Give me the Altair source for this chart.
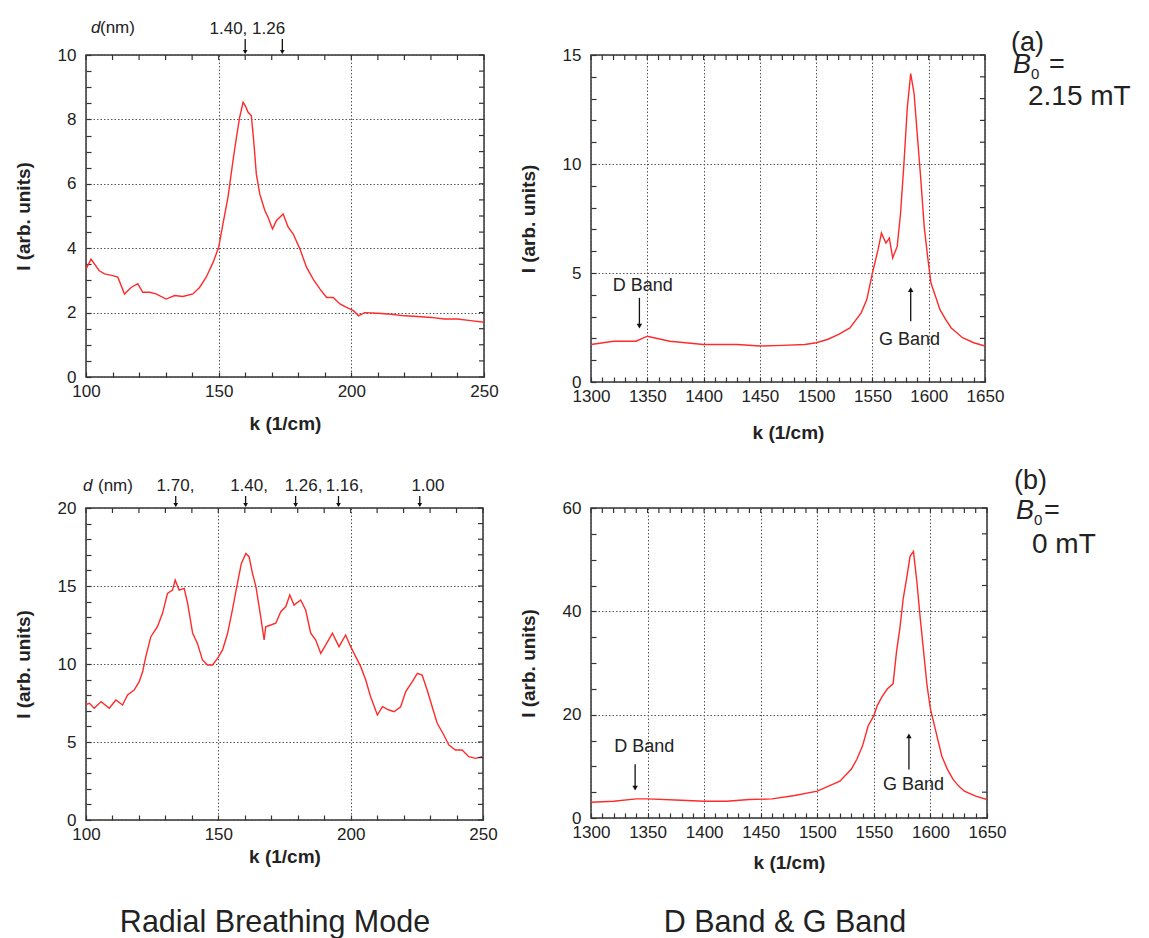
import altair as alt
import pandas as pd

# ---------------- data ----------------
# (a) B0 = 2.15 mT, radial breathing mode
k_a_rbm = [100, 101.9, 105, 107, 110, 112, 114.5, 117, 119.5, 121.4, 124, 126.4, 130.2, 133.4,
           136.5, 140.3, 142.8, 145.3, 147.9, 150, 151.6, 153.5, 155.4, 156.7, 157.9, 159.2, 160,
           161.1, 162.3, 163.2, 164.2, 165.5, 167.4, 168.6, 170.3, 171.8, 174.3, 176.2, 178.1,
           180.6, 183.1, 185.6, 188.2, 190.7, 193.2, 195.7, 198.2, 200.8, 202.7, 205, 210, 215,
           220, 225, 230, 235, 240, 245, 250]
I_a_rbm = [3.35, 3.66, 3.3, 3.2, 3.15, 3.1, 2.58, 2.78, 2.9, 2.63, 2.63, 2.58, 2.42, 2.53,
           2.5, 2.58, 2.78, 3.1, 3.56, 4.03, 4.75, 5.58, 6.72, 7.44, 8.06, 8.53, 8.43,
           8.22, 8.12, 7.34, 6.3, 5.68, 5.17, 4.96, 4.6, 4.86, 5.06, 4.65, 4.44,
           3.98, 3.41, 3.04, 2.73, 2.47, 2.47, 2.27, 2.16, 2.06, 1.9, 2.0, 1.98, 1.95,
           1.9, 1.88, 1.85, 1.8, 1.8, 1.75, 1.7]

# (a) D band & G band
k_a_dg = [1300, 1320, 1340, 1350, 1370, 1400, 1430, 1450, 1470, 1490, 1500, 1510, 1520, 1530,
          1540, 1545, 1550, 1555, 1558, 1562, 1565, 1568, 1572, 1575, 1578, 1581, 1584, 1587,
          1590, 1593, 1596, 1599, 1602, 1606, 1610, 1615, 1620, 1625, 1630, 1640, 1650]
I_a_dg = [1.72, 1.87, 1.87, 2.1, 1.87, 1.72, 1.72, 1.65, 1.68, 1.72, 1.8, 1.95, 2.18, 2.48,
          3.17, 3.78, 5.0, 6.07, 6.83, 6.37, 6.6, 5.69, 6.22, 7.74, 10.03, 12.6, 14.15, 13.23,
          11.25, 9.27, 7.13, 5.76, 4.54, 3.93, 3.32, 2.87, 2.48, 2.26, 2.03, 1.8, 1.65]

# (b) B0 = 0 mT, radial breathing mode
k_b_rbm = [100, 101.3, 103.1, 105.7, 108.8, 111.3, 113.8, 115.7, 118.2, 120.1, 121.4, 122.6,
           124.5, 127, 128.9, 130.8, 132.7, 133.7, 135.2, 137.1, 138.4, 140.3, 142.1, 144,
           145.9, 147.8, 149.7, 151.6, 153.5, 155.3, 157.2, 158.7, 160.4, 161.6, 162.9, 164.2,
           166, 167.3, 167.9, 169.8, 171.7, 173.6, 175.5, 177, 178.6, 181.1, 183, 184.9, 186.8,
           188.7, 190.6, 193.1, 195.6, 198.1, 200, 201.9, 203.8, 205.7, 207.5, 210.1, 212,
           214.5, 216.4, 218.9, 220.8, 223.3, 225.2, 227, 228.9, 230.8, 232.7, 235.2, 237.1,
           239.6, 242.1, 244.6, 247.2, 249.7]
I_b_rbm = [7.4, 7.48, 7.16, 7.59, 7.16, 7.69, 7.37, 8.01, 8.33, 8.87, 9.5, 10.47,
           11.75, 12.39, 13.25, 14.53, 14.74, 15.38, 14.74, 14.85, 13.89, 11.97, 11.32, 10.26,
           9.94, 9.94, 10.36, 10.9, 11.97, 13.46, 15.17, 16.45, 17.09, 16.88, 15.81, 14.96,
           13.03, 11.54, 12.39, 12.5, 12.61, 13.35, 13.68, 14.42, 13.78, 14.1, 13.46, 11.97, 11.54,
           10.68, 11.22, 11.97, 11.11, 11.86, 11.11, 10.47, 9.83, 8.97, 7.91, 6.73, 7.26,
           7.05, 6.94, 7.26, 8.23, 8.87, 9.4, 9.29, 8.33, 7.26, 6.2, 5.45, 4.81,
           4.49, 4.49, 4.06, 3.95, 4.06]

# (b) D band & G band
k_b_dg = [1300, 1320, 1340, 1350, 1380, 1400, 1420, 1440, 1460, 1480, 1500, 1510, 1520, 1530,
          1535, 1540, 1545, 1550, 1553, 1557, 1562, 1567, 1570, 1573, 1576, 1579, 1582, 1585,
          1588, 1591, 1594, 1597, 1600, 1605, 1610, 1615, 1620, 1625, 1630, 1640, 1650]
I_b_dg = [3.05, 3.25, 3.7, 3.7, 3.44, 3.25, 3.25, 3.57, 3.7, 4.35, 5.19, 6.17, 7.14, 9.42,
          11.36, 13.96, 17.86, 19.8, 21.75, 23.38, 25.0, 25.97, 32.14, 36.69, 42.53, 46.43, 50.65, 51.6,
          45.78, 38.64, 32.14, 25.65, 21.1, 16.56, 12.01, 9.42, 7.47, 6.17, 5.19, 4.22, 3.57]

# tube-diameter markers (wavenumber of the arrow, label)
a_marker_k = [160, 174]
a_marker_label = ["1.40, 1.26"]
a_marker_label_k = [160.8]
b_marker_k = [133.9, 160.3, 179.2, 195.4, 226.1]
b_marker_label = ["1.70,", "1.40,", "1.26,", "1.16,", "1.00"]
b_marker_label_k = [133.8, 161.6, 182.2, 197.7, 229.2]

# band annotations: text, text position, arrow start/end
a_band_text = ["D Band", "G Band"]
a_band_text_k = [1346, 1583]
a_band_text_I = [4.16, 1.72]
a_arrow_k = [1343, 1584]
a_arrow_from = [3.86, 2.79]
a_arrow_to = [2.56, 4.24]
b_band_text = ["D Band", "G Band"]
b_band_text_k = [1347, 1585]
b_band_text_I = [12.7, 5.5]
b_arrow_k = [1339, 1581]
b_arrow_from = [10.4, 9.4]
b_arrow_to = [5.8, 15.9]
arrow_shape = ["triangle-down", "triangle-up"]

# axis tick values
rbm_major = [100, 150, 200, 250]
rbm_minor = list(range(100, 251, 10))
dg_major = list(range(1300, 1651, 50))
dg_minor = list(range(1300, 1651, 10))

# ---------------- styling ----------------
RED = "#ff2a2a"
FONT = "Liberation Sans"
INK = "#222222"
GRID = "#555555"
TICK = "#333333"
LABEL_SIZE = 17
TITLE_SIZE = 19
TICK_LEN = 5


def const_text(text, x, y, size, align="left", style="normal", weight="normal"):
    return alt.Chart(alt.Data(values=[{}])).mark_text(
        text=text, align=align, baseline="alphabetic", font=FONT, fontSize=size,
        fontStyle=style, fontWeight=weight, color=INK
    ).encode(x=alt.value(x), y=alt.value(y))


def axis_def(orient, major, minor, title, title_pad, label_pad):
    is_major = f"indexof({list(major)}, datum.value) >= 0"
    # the axis is pulled TICK_LEN px into the plot so its outward ticks end on the frame;
    # a large tickCount keeps Vega from thinning the explicit tick values
    return alt.Axis(
        values=minor, tickCount=1000, orient=orient, offset=-TICK_LEN,
        ticks=True, tickSize=TICK_LEN, tickColor=TICK, tickWidth=1.2,
        domain=False, labelPadding=label_pad, labelFlush=False, labelOverlap=False,
        labelExpr=f"{is_major} ? format(datum.value, 'd') : ''",
        title=title, titlePadding=title_pad,
        grid=True, gridDash=[1.5, 2], gridColor=GRID, gridWidth=1,
        gridOpacity={"condition": {"test": is_major, "value": 1}, "value": 0},
    )


def far_ticks(xminor, yminor, xdom, ydom, w, h):
    # inward ticks on the top and right frame edges, through the panel's scales
    def build(xs, ys):
        dy = (ydom[1] - ydom[0]) * TICK_LEN / h
        dx = (xdom[1] - xdom[0]) * TICK_LEN / w
        dxt = pd.DataFrame({"k": xminor, "I": [ydom[1] - dy] * len(xminor),
                            "I2": [ydom[1]] * len(xminor)})
        dyt = pd.DataFrame({"I": yminor, "k": [xdom[1] - dx] * len(yminor),
                            "k2": [xdom[1]] * len(yminor)})
        rk = dict(color=TICK, strokeWidth=1.2)
        xt = alt.Chart(dxt).mark_rule(**rk).encode(
            x=alt.X("k:Q", scale=xs), y=alt.Y("I:Q", scale=ys), y2="I2:Q")
        yt = alt.Chart(dyt).mark_rule(**rk).encode(
            y=alt.Y("I:Q", scale=ys), x=alt.X("k:Q", scale=xs), x2="k2:Q")
        return [xt, yt]
    return build


def panel(k, I, xdom, ydom, xmajor, xminor, ymajor, yminor, w, h, xtitle_pad, extra):
    df = pd.DataFrame({"k": k, "I": I})
    xs = alt.Scale(domain=xdom, nice=False, zero=False)
    ys = alt.Scale(domain=ydom, nice=False, zero=False)
    main = alt.Chart(df).mark_line(color=RED, strokeWidth=1.4, clip=True).encode(
        x=alt.X("k:Q", scale=xs, axis=axis_def("bottom", xmajor, xminor, "k (1/cm)",
                                               xtitle_pad, 6)),
        y=alt.Y("I:Q", scale=ys, axis=axis_def("left", ymajor, yminor, "I (arb. units)",
                                               24, 10)),
    )
    layers = [main] + [b(xs, ys) for b in extra]
    layers += far_ticks(xminor, yminor, xdom, ydom, w, h)(xs, ys)
    return alt.layer(*layers).properties(width=w, height=h)


def markers(mk, labels, label_k, y_top, y_label):
    def build(xs, ys):
        dm = pd.DataFrame({"k": mk})
        dl = pd.DataFrame({"k": label_k, "t": labels})
        rule = alt.Chart(dm).mark_rule(color="#111", strokeWidth=1.3).encode(
            x=alt.X("k:Q", scale=xs), y=alt.value(y_top), y2=alt.value(-2))
        head = alt.Chart(dm).mark_point(shape="triangle-down", filled=True, size=22,
                                        color="#111", opacity=1).encode(
            x=alt.X("k:Q", scale=xs), y=alt.value(-3))
        txt = alt.Chart(dl).mark_text(font=FONT, fontSize=17, color=INK, baseline="alphabetic",
                                      align="center").encode(
            x=alt.X("k:Q", scale=xs), y=alt.value(y_label), text="t:N")
        return alt.layer(rule, head, txt)
    return build


def bands(texts, tk, tI, ak, afrom, ato):
    def build(xs, ys):
        dt = pd.DataFrame({"k": tk, "I": tI, "t": texts})
        da = pd.DataFrame({"k": ak, "I": afrom, "I2": ato, "s": arrow_shape})
        txt = alt.Chart(dt).mark_text(font=FONT, fontSize=18, color=INK, baseline="alphabetic",
                                      align="center").encode(
            x=alt.X("k:Q", scale=xs), y=alt.Y("I:Q", scale=ys), text="t:N")
        rule = alt.Chart(da).mark_rule(color="#111", strokeWidth=1.3).encode(
            x=alt.X("k:Q", scale=xs), y=alt.Y("I:Q", scale=ys), y2="I2:Q")
        head = alt.Chart(da).mark_point(filled=True, size=30, color="#111", opacity=1).encode(
            x=alt.X("k:Q", scale=xs), y=alt.Y("I2:Q", scale=ys),
            shape=alt.Shape("s:N", scale=None))
        return alt.layer(rule, txt, head)
    return build


def const(text, x, y, size, align="left", style="normal"):
    def build(xs, ys):
        return const_text(text, x, y, size, align, style)
    return build


tl = panel(k_a_rbm, I_a_rbm, [100, 250], [0, 10], rbm_major, rbm_minor,
           [0, 2, 4, 6, 8, 10], [x / 2 for x in range(0, 21)], 398, 322, 15,
           [markers(a_marker_k, a_marker_label, a_marker_label_k, -16, -21),
            const("d", 5, -22, 17, style="italic"), const("(nm)", 14, -22, 17)])

tr = panel(k_a_dg, I_a_dg, [1300, 1650], [0, 15], dg_major, dg_minor,
           [0, 5, 10, 15], list(range(0, 16)), 394, 327, 19,
           [bands(a_band_text, a_band_text_k, a_band_text_I, a_arrow_k, a_arrow_from, a_arrow_to),
            const("(a)", 420, -4, 27), const("B", 422, 18, 27, style="italic"),
            const("0", 440, 24, 15), const("=", 458, 18, 27), const("2.15 mT", 437, 50, 28)])

bl = panel(k_b_rbm, I_b_rbm, [100, 250], [0, 20], rbm_major, rbm_minor,
           [0, 5, 10, 15, 20], list(range(0, 21)), 397, 312, 5,
           [markers(b_marker_k, b_marker_label, b_marker_label_k, -12, -17),
            const("d", -3, -17, 17, style="italic"), const("(nm)", 12, -17, 17),
            const("Radial Breathing Mode", 189, 424, 30.5, align="center")])

br = panel(k_b_dg, I_b_dg, [1300, 1650], [0, 60], dg_major, dg_minor,
           [0, 20, 40, 60], list(range(0, 61, 5)), 396, 310, 13,
           [bands(b_band_text, b_band_text_k, b_band_text_I, b_arrow_k, b_arrow_from, b_arrow_to),
            const("(b)", 423, -19, 27), const("B", 425, 11, 27, style="italic"),
            const("0", 443, 17, 15), const("=", 453, 11, 27), const("0 mT", 441, 45, 28),
            const("D Band & G Band", 194, 424, 30.5, align="center")])

chart = alt.concat(tl, tr, bl, br, columns=2,
                   spacing=alt.RowColnumber(row=126, column=107),
                   bounds="flush").properties(
    padding={"left": 5, "top": 10, "right": 0, "bottom": 0},
    background="white",
).configure_view(
    stroke="#333333", strokeWidth=1.5
).configure_axis(
    labelFont=FONT, titleFont=FONT, labelColor=INK, titleColor=INK,
    labelFontSize=LABEL_SIZE, titleFontSize=TITLE_SIZE, titleFontWeight="bold",
)

chart.save("out.html", embed_options={"renderer": "svg", "actions": False})
